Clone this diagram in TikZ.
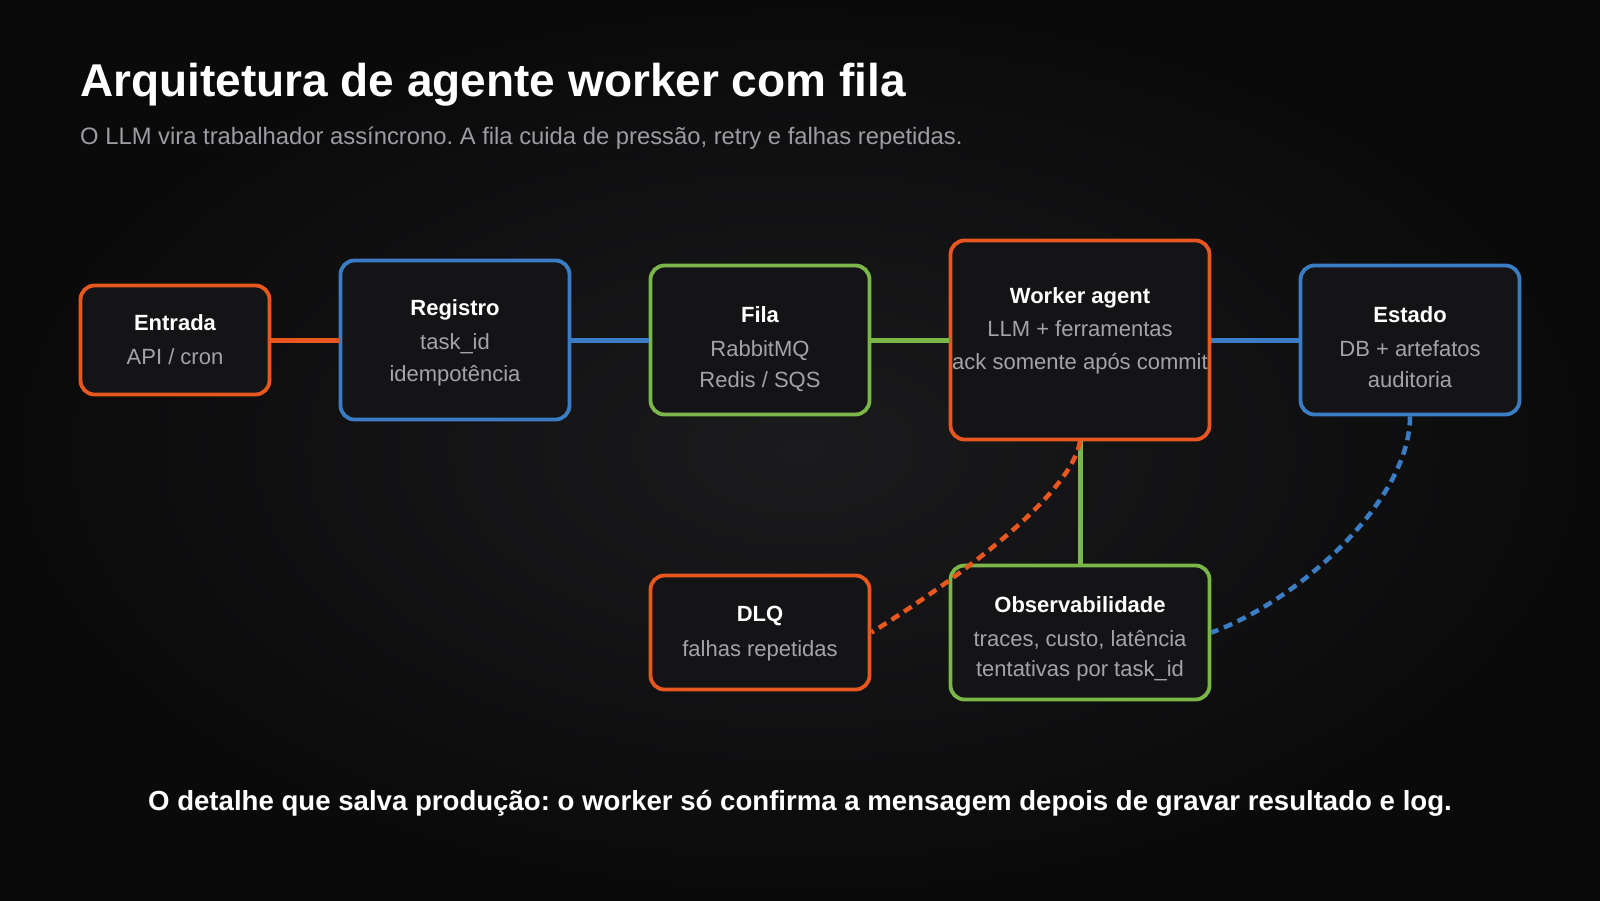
\documentclass[tikz,border=0pt]{standalone}
\usepackage{fontspec}
\setmainfont{Liberation Sans}
\frenchspacing
\definecolor{bgout}{HTML}{0A0A0B}
\definecolor{bgin}{HTML}{1B1B1D}
\definecolor{boxfill}{HTML}{141416}
\definecolor{orng}{HTML}{E8571F}
\definecolor{blu}{HTML}{3B7DC4}
\definecolor{grn}{HTML}{7AB648}
\definecolor{subgray}{HTML}{A3A3AB}
\definecolor{capgray}{HTML}{9C9CA2}
\begin{document}
\begin{tikzpicture}[x=1pt,y=-1pt,
  every node/.style={inner sep=0pt},
  box/.style={draw,fill=boxfill,rounded corners=14pt,line width=3.8pt},
  ttl/.style={anchor=base,font=\fontsize{22}{26}\selectfont\bfseries,text=white},
  sub/.style={anchor=base,font=\fontsize{22}{26}\selectfont,text=subgray},
  link/.style={line width=5pt},
  dashlink/.style={line width=4.5pt,dash pattern=on 9pt off 6pt}]
  \path[use as bounding box] (0,0) rectangle (1600,900);
  \shade[inner color=bgin,outer color=bgout] (0,0) rectangle (1600,900);
  % header
  \node[anchor=base west,font=\fontsize{46}{50}\selectfont\bfseries,text=white] (title) at (80,96)
    {Arquitetura de agente worker com fila};
  \node[anchor=base west,font=\fontsize{23.8}{28}\selectfont,text=capgray] (subtitle) at (80,144)
    {O LLM vira trabalhador assíncrono. A fila cuida de pressão, retry e falhas repetidas.};
  % boxes
  \node[box,draw=orng,minimum width=189pt,minimum height=109pt] (ent) at (175,340) {};
  \node[box,draw=blu,minimum width=229pt,minimum height=159pt] (reg) at (455,340) {};
  \node[box,draw=grn,minimum width=219pt,minimum height=149pt] (fila) at (760,340) {};
  \node[box,draw=orng,minimum width=259pt,minimum height=199pt] (wrk) at (1080,340) {};
  \node[box,draw=blu,minimum width=219pt,minimum height=149pt] (est) at (1410,340) {};
  \node[box,draw=orng,minimum width=219pt,minimum height=114pt] (dlq) at (760,632.5) {};
  \node[box,draw=grn,minimum width=259pt,minimum height=134pt] (obs) at (1080,632.5) {};
  % texts
  \node[ttl] (entt) at (175,330.5) {Entrada};
  \node[sub] (ents) at (175,364) {API / cron};
  \node[ttl] (regt) at (455,315) {Registro};
  \node[sub] (regs1) at (455,349) {task\_id};
  \node[sub] (regs2) at (455,381.5) {idempotência};
  \node[ttl] (filat) at (760,322) {Fila};
  \node[sub] (filas1) at (760,356) {RabbitMQ};
  \node[sub] (filas2) at (760,387.6) {Redis / SQS};
  \node[ttl] (wrkt) at (1080,303) {Worker agent};
  \node[sub] (wrks1) at (1080,336.6) {LLM + ferramentas};
  \node[sub] (wrks2) at (1080,369) {ack somente após commit};
  \node[ttl] (estt) at (1410,322) {Estado};
  \node[sub] (ests1) at (1410,356) {DB + artefatos};
  \node[sub] (ests2) at (1410,387.6) {auditoria};
  \node[ttl] (dlqt) at (760,621) {DLQ};
  \node[sub] (dlqs) at (760,656) {falhas repetidas};
  \node[ttl] (obst) at (1080,612) {Observabilidade};
  \node[sub] (obss1) at (1080,646) {traces, custo, latência};
  \node[sub] (obss2) at (1080,676) {tentativas por task\_id};
  % links
  \draw[link,orng] (ent.east) -- (reg.west);
  \draw[link,blu] (reg.east) -- (fila.west);
  \draw[link,grn] (fila.east) -- (wrk.west);
  \draw[link,blu] (wrk.east) -- (est.west);
  \draw[link,grn] (wrk.south) -- (obs.north);
  \draw[dashlink,orng] (wrk.south) .. controls (1070,500) and (940,590) .. (dlq.east);
  \draw[dashlink,blu] (est.south) .. controls (1410,500) and (1300,600) .. (obs.east);
  % footer
  \node[anchor=base,font=\fontsize{27.6}{31}\selectfont\bfseries,text=white] (note) at (800,810)
    {O detalhe que salva produção: o worker só confirma a mensagem depois de gravar resultado e log.};
\end{tikzpicture}
\end{document}
